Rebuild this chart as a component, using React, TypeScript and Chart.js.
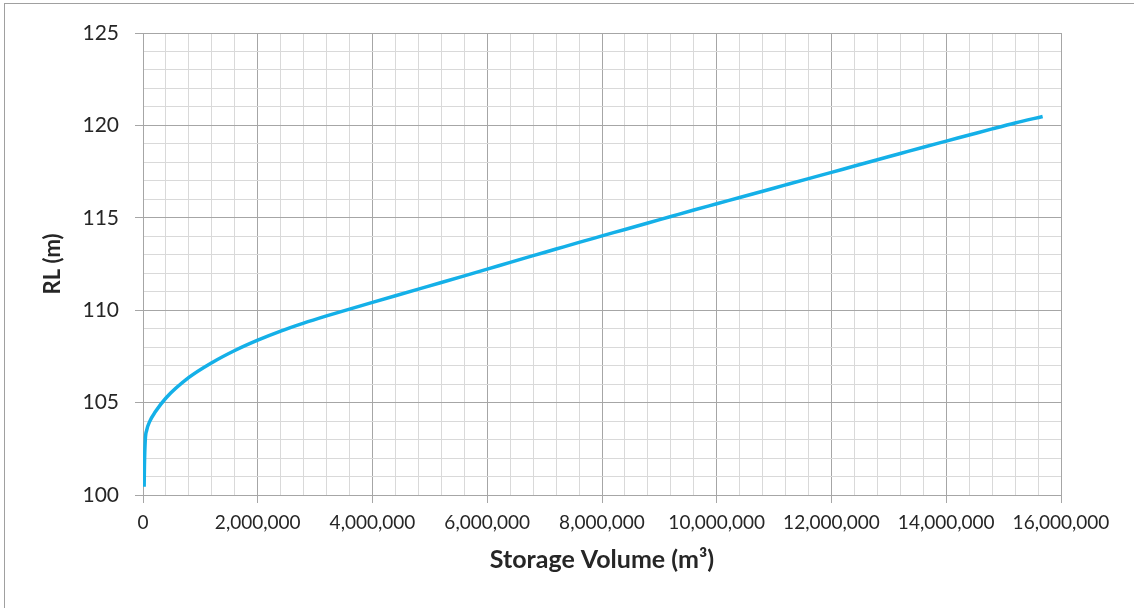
import React, { useEffect, useRef } from "react";
import { Chart, registerables } from "chart.js";

Chart.register(...registerables);

const volumes: number[] = [
  20000, 25000, 40000, 64000, 120000, 215000, 400000, 800000, 1200000,
  1600000, 2000000, 2400000, 2800000, 3200000, 3600000, 4000000, 4400000,
  4800000, 5200000, 5600000, 6000000, 6400000, 6800000, 7200000, 7600000,
  8000000, 8400000, 8800000, 9200000, 9600000, 10000000, 10400000, 10800000,
  11200000, 11600000, 12000000, 12400000, 12800000, 13200000, 13600000,
  14000000, 14400000, 14800000, 15200000, 15680000,
];
const levels: number[] = [
  100.45, 101.6, 103.0, 103.5, 104.0, 104.5, 105.25, 106.36, 107.16,
  107.82, 108.38, 108.87, 109.3, 109.69, 110.06, 110.42, 110.78, 111.14,
  111.5, 111.86, 112.22, 112.59, 112.95, 113.31, 113.67, 114.02, 114.37,
  114.72, 115.07, 115.42, 115.76, 116.1, 116.44, 116.78, 117.12, 117.46,
  117.8, 118.14, 118.48, 118.82, 119.15, 119.48, 119.81, 120.13, 120.48,
];

const xMin = 0;
const xMax = 16000000;
const xMinorStep = 400000;
const xMajorStep = 2000000;
const yMin = 100;
const yMax = 125;
const yMinorStep = 1;
const yMajorStep = 5;

const xTitle = "Storage Volume (m³)";
const yTitle = "RL (m)";

const MAJOR = "#a6a6a6";
const MINOR = "#d9d9d9";
const LINE = "#14b0e8";

const isMult = (v: number, step: number) =>
  Math.abs(v / step - Math.round(v / step)) < 1e-6;

const framePlugin = {
  id: "frame",
  beforeDraw(chart: any) {
    const ctx = chart.ctx;
    ctx.save();
    ctx.fillStyle = "#ffffff";
    ctx.fillRect(0, 0, chart.width, chart.height);
    ctx.strokeStyle = "#a0a0a0";
    ctx.lineWidth = 1;
    ctx.strokeRect(4.5, 3.5, chart.width + 20, chart.height + 20);
    ctx.restore();
  },
};

export default function App() {
  const ref = useRef<HTMLCanvasElement | null>(null);
  useEffect(() => {
    if (!ref.current) return;
    const data = volumes.map((v, i) => ({ x: v, y: levels[i] }));
    const chart = new Chart(ref.current, {
      type: "scatter",
      data: {
        datasets: [
          {
            data,
            showLine: true,
            borderColor: LINE,
            backgroundColor: LINE,
            borderWidth: 3.5,
            pointRadius: 0,
            cubicInterpolationMode: "monotone",
          } as any,
        ],
      },
      options: {
        animation: false,
        responsive: false,
        layout: { padding: { left: 0, top: 33, right: 73, bottom: 0 } },
        plugins: {
          legend: { display: false },
          tooltip: { enabled: false },
        },
        scales: {
          x: {
            type: "linear",
            min: xMin,
            max: xMax,
            afterFit: (s: any) => {
              s.height = 113;
            },
            border: { color: MAJOR, width: 1 },
            grid: {
              color: (c: any) => (isMult(c.tick.value, xMajorStep) ? MAJOR : MINOR),
              tickColor: (c: any) =>
                isMult(c.tick.value, xMajorStep) ? MAJOR : "rgba(0,0,0,0)",
              tickLength: 8,
              drawTicks: true,
            },
            ticks: {
              stepSize: xMinorStep,
              autoSkip: false,
              maxRotation: 0,
              padding: 8,
              color: "#262626",
              font: { family: "Lato", size: 19 },
              callback: (v: any) =>
                isMult(Number(v), xMajorStep)
                  ? Number(v).toLocaleString("en-US")
                  : "",
            },
            title: {
              display: true,
              text: xTitle,
              color: "#262626",
              font: { family: "Lato", size: 25, weight: "bold" },
              padding: { top: 0, bottom: 33 },
            },
          },
          y: {
            type: "linear",
            min: yMin,
            max: yMax,
            afterFit: (s: any) => {
              s.width = 143;
            },
            border: { color: MAJOR, width: 1 },
            grid: {
              color: (c: any) => (isMult(c.tick.value, yMajorStep) ? MAJOR : MINOR),
              tickColor: (c: any) =>
                isMult(c.tick.value, yMajorStep) ? MAJOR : "rgba(0,0,0,0)",
              tickLength: 8,
            },
            ticks: {
              stepSize: yMinorStep,
              autoSkip: false,
              padding: 16,
              color: "#262626",
              font: { family: "Lato", size: 21 },
              callback: (v: any) =>
                isMult(Number(v), yMajorStep) ? String(v) : "",
            },
            title: {
              display: true,
              text: yTitle,
              color: "#262626",
              font: { family: "Lato", size: 22, weight: "bold" },
              padding: { top: 40, bottom: 0 },
            },
          },
        },
      },
      plugins: [framePlugin],
    });
    return () => chart.destroy();
  }, []);
  return (
    <div style={{ position: "fixed", left: 0, top: 0, width: 1134, height: 608 }}>
      <canvas ref={ref} width={1134} height={608} />
    </div>
  );
}
